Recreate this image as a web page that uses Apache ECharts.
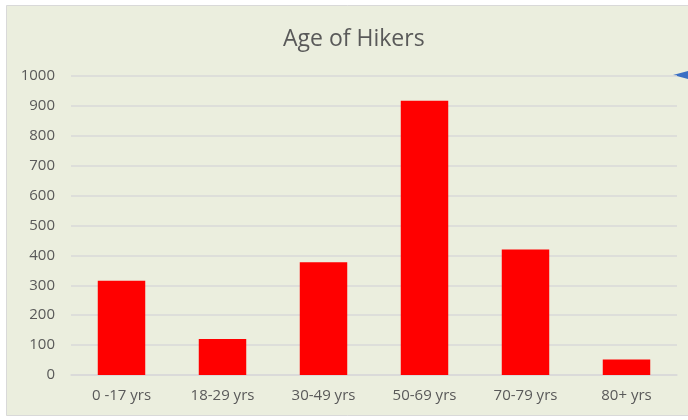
<!DOCTYPE html>
<html>
<head>
<meta charset="utf-8">
<script src="https://cdn.jsdelivr.net/npm/echarts@6/dist/echarts.min.js"></script>
<style>
  html, body { margin: 0; padding: 0; background: #fff; }
  #chart { width: 688px; height: 420px; }
</style>
</head>
<body>
<div id="chart"></div>
<script>
// age groups and hiker counts
var ageGroups = ['0 -17 yrs', '18-29 yrs', '30-49 yrs', '50-69 yrs', '70-79 yrs', '80+ yrs'];
var hikerCounts = [315, 120, 377, 917, 420, 52];

var chart = echarts.init(document.getElementById('chart'));

chart.setOption({
  backgroundColor: '#ffffff',
  animation: false,
  textStyle: { fontFamily: 'Open Sans' },
  graphic: [
    {
      type: 'rect',
      z: -10,
      shape: { x: 6.5, y: 5.5, width: 700, height: 410 },
      style: { fill: '#ebeede', stroke: '#d9d9d9', lineWidth: 1 }
    },
    {
      // bit of a blue arrow shape poking in at the right edge
      type: 'polygon',
      shape: { points: [[673, 75], [688, 71], [688, 79]] },
      style: { fill: '#3a6fc4' }
    }
  ],
  title: {
    text: 'Age of Hikers',
    left: 278,
    top: 23,
    textStyle: { fontSize: 23, fontWeight: 'normal', color: '#595959', fontFamily: 'Open Sans' }
  },
  grid: { left: 71, right: 11, top: 76, bottom: 45 },
  xAxis: {
    type: 'category',
    data: ageGroups,
    axisLine: { show: true, lineStyle: { color: '#d9d9d9', width: 1.5 } },
    axisTick: { show: false },
    axisLabel: { color: '#595959', fontSize: 15, margin: 13 }
  },
  yAxis: {
    type: 'value',
    min: 0,
    max: 1000,
    interval: 100,
    axisLine: { show: false },
    axisTick: { show: false },
    axisLabel: { color: '#595959', fontSize: 15, margin: 16, formatter: function (v) { return String(v); } },
    splitLine: { lineStyle: { color: '#d9d9d9', width: 1.5 } }
  },
  series: [{
    type: 'bar',
    data: hikerCounts,
    barWidth: '47%',
    itemStyle: { color: '#ff0000' }
  }]
});
</script>
</body>
</html>
